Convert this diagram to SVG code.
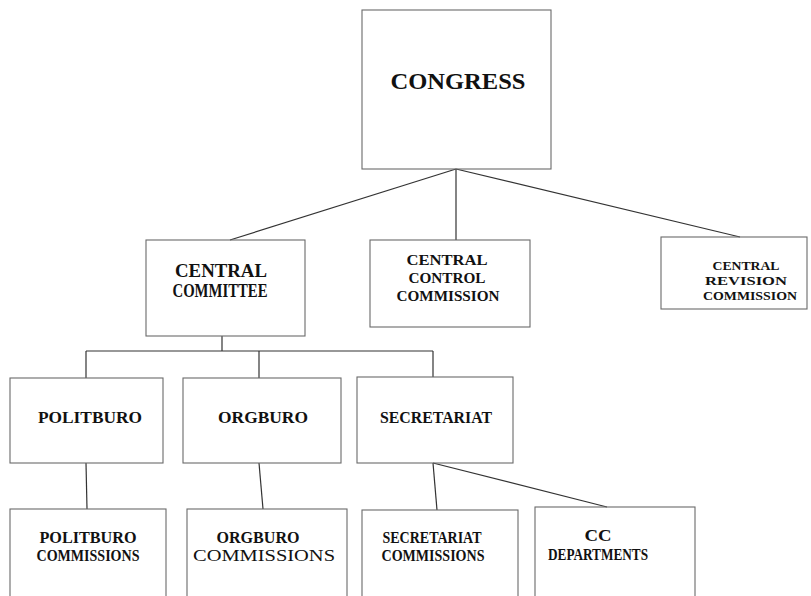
<svg xmlns="http://www.w3.org/2000/svg" width="811" height="596" viewBox="0 0 811 596">
<style>
.box{fill:none;stroke:#6a6a6a;stroke-width:1.1}
.con{stroke:#333;stroke-width:1.2;fill:none}
text{font-family:"Liberation Serif","Times New Roman",serif;font-weight:bold;fill:#111;text-anchor:middle}
.s24{font-size:24px}
.s18{font-size:18px}
.s17{font-size:17px}
.s16{font-size:16px}
.s15{font-size:15px}
.s13{font-size:13.5px}
</style>
<rect width="811" height="596" fill="#fff"/>
<g id="connectors">
<line class="con" x1="456" y1="169" x2="230" y2="240"/>
<line class="con" x1="456" y1="169" x2="456" y2="240"/>
<line class="con" x1="456" y1="169" x2="740" y2="237"/>
<line class="con" x1="222" y1="336" x2="222" y2="351"/>
<line class="con" x1="86" y1="351" x2="433" y2="351"/>
<line class="con" x1="86" y1="351" x2="86" y2="378"/>
<line class="con" x1="259" y1="351" x2="259" y2="378"/>
<line class="con" x1="433" y1="351" x2="433" y2="377"/>
<line class="con" x1="86" y1="463" x2="87" y2="509"/>
<line class="con" x1="259" y1="463" x2="263" y2="509"/>
<line class="con" x1="433" y1="463" x2="437" y2="510"/>
<line class="con" x1="433" y1="463" x2="607" y2="507"/>
</g>
<g id="congress">
<rect class="box" x="362" y="10" width="189" height="159"/>
<text class="s24" x="458" y="89" textLength="135" lengthAdjust="spacingAndGlyphs">CONGRESS</text>
</g>
<g id="central-committee">
<rect class="box" x="146" y="240" width="159" height="96"/>
<text class="s18" x="221" y="277" textLength="92" lengthAdjust="spacingAndGlyphs">CENTRAL</text>
<text class="s18" x="220" y="297" textLength="95" lengthAdjust="spacingAndGlyphs">COMMITTEE</text>
</g>
<g id="central-control-commission">
<rect class="box" x="370" y="240" width="160" height="87"/>
<text class="s15" x="447" y="265" textLength="81" lengthAdjust="spacingAndGlyphs">CENTRAL</text>
<text class="s15" x="447" y="283" textLength="77" lengthAdjust="spacingAndGlyphs">CONTROL</text>
<text class="s15" x="448" y="301" textLength="103" lengthAdjust="spacingAndGlyphs">COMMISSION</text>
</g>
<g id="central-revision-commission">
<rect class="box" x="661" y="237" width="146" height="72"/>
<text class="s13" x="746" y="270" textLength="67" lengthAdjust="spacingAndGlyphs">CENTRAL</text>
<text class="s13" x="746" y="285" textLength="82" lengthAdjust="spacingAndGlyphs">REVISION</text>
<text class="s13" x="750" y="300" textLength="94" lengthAdjust="spacingAndGlyphs">COMMISSION</text>
</g>
<g id="politburo">
<rect class="box" x="10" y="378" width="153" height="85"/>
<text class="s17" x="90" y="423" textLength="104" lengthAdjust="spacingAndGlyphs">POLITBURO</text>
</g>
<g id="orgburo">
<rect class="box" x="183" y="378" width="158" height="85"/>
<text class="s17" x="263" y="423" textLength="90" lengthAdjust="spacingAndGlyphs">ORGBURO</text>
</g>
<g id="secretariat">
<rect class="box" x="357" y="377" width="156" height="86"/>
<text class="s17" x="436" y="423" textLength="112" lengthAdjust="spacingAndGlyphs">SECRETARIAT</text>
</g>
<g id="politburo-commissions">
<rect class="box" x="10" y="509" width="156" height="100"/>
<text class="s16" x="88" y="543" textLength="97" lengthAdjust="spacingAndGlyphs">POLITBURO</text>
<text class="s16" x="88" y="561" textLength="103" lengthAdjust="spacingAndGlyphs">COMMISSIONS</text>
</g>
<g id="orgburo-commissions">
<rect class="box" x="187" y="509" width="160" height="100"/>
<text class="s16" x="258" y="543" textLength="83" lengthAdjust="spacingAndGlyphs">ORGBURO</text>
<text class="s16" x="264" y="561" style="font-weight:normal" textLength="142" lengthAdjust="spacingAndGlyphs">COMMISSIONS</text>
</g>
<g id="secretariat-commissions">
<rect class="box" x="362" y="510" width="156" height="100"/>
<text class="s16" x="432" y="543" textLength="99" lengthAdjust="spacingAndGlyphs">SECRETARIAT</text>
<text class="s16" x="433" y="561" textLength="103" lengthAdjust="spacingAndGlyphs">COMMISSIONS</text>
</g>
<g id="cc-departments">
<rect class="box" x="535" y="507" width="160" height="100"/>
<text class="s16" x="598" y="541" textLength="27" lengthAdjust="spacingAndGlyphs">CC</text>
<text class="s16" x="598" y="560" textLength="100" lengthAdjust="spacingAndGlyphs">DEPARTMENTS</text>
</g>
</svg>
